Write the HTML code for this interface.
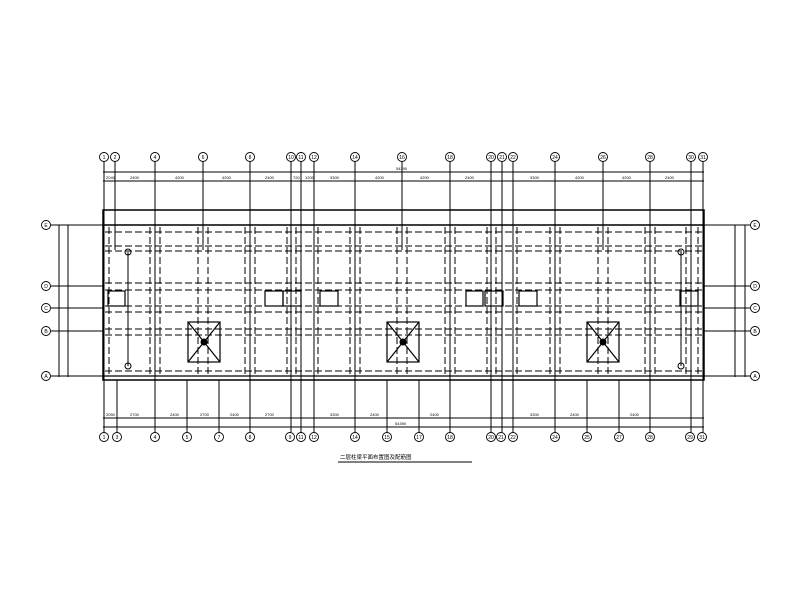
<!DOCTYPE html>
<html><head><meta charset="utf-8"><style>
html,body{margin:0;padding:0;background:#fff;}
svg{display:block;}
text{font-family:"Liberation Sans",sans-serif;}
</style></head><body>
<svg width="801" height="589" viewBox="0 0 801 589" xmlns="http://www.w3.org/2000/svg">
<g stroke="#000" fill="none" stroke-width="1">
<line x1="103" y1="172" x2="704" y2="172"/>
<line x1="103" y1="181" x2="704" y2="181"/>
<line x1="103" y1="418" x2="704" y2="418"/>
<line x1="103" y1="427" x2="704" y2="427"/>
<line x1="59" y1="225" x2="59" y2="377"/>
<line x1="68" y1="225" x2="68" y2="377"/>
<line x1="735" y1="225" x2="735" y2="377"/>
<line x1="745" y1="225" x2="745" y2="377"/>
<g>
<line x1="51" y1="225" x2="103" y2="225"/><line x1="704" y1="225" x2="750" y2="225"/>
<line x1="51" y1="286" x2="103" y2="286"/><line x1="704" y1="286" x2="750" y2="286"/>
<line x1="51" y1="308" x2="103" y2="308"/><line x1="704" y1="308" x2="750" y2="308"/>
<line x1="51" y1="331" x2="103" y2="331"/><line x1="704" y1="331" x2="750" y2="331"/>
<line x1="51" y1="376" x2="103" y2="376"/><line x1="704" y1="376" x2="750" y2="376"/>
</g>
<rect x="103" y="210" width="601" height="170" stroke-width="1.5"/>
<line x1="103" y1="225" x2="704" y2="225" stroke-width="1.5"/>
<line x1="103" y1="376" x2="704" y2="376" stroke-width="1.3"/>
<g>
<line x1="104" y1="162" x2="104" y2="432"/><line x1="115" y1="162" x2="115" y2="250"/>
<line x1="155" y1="162" x2="155" y2="432"/><line x1="203" y1="162" x2="203" y2="250"/>
<line x1="250" y1="162" x2="250" y2="432"/><line x1="291" y1="162" x2="291" y2="432"/>
<line x1="301" y1="162" x2="301" y2="432"/><line x1="314" y1="162" x2="314" y2="432"/>
<line x1="355" y1="162" x2="355" y2="432"/><line x1="402" y1="162" x2="402" y2="250"/>
<line x1="450" y1="162" x2="450" y2="432"/><line x1="491" y1="162" x2="491" y2="432"/>
<line x1="502" y1="162" x2="502" y2="432"/><line x1="513" y1="162" x2="513" y2="432"/>
<line x1="555" y1="162" x2="555" y2="432"/><line x1="603" y1="162" x2="603" y2="250"/>
<line x1="650" y1="162" x2="650" y2="432"/><line x1="691" y1="162" x2="691" y2="432"/>
<line x1="703" y1="162" x2="703" y2="432"/>
<line x1="117" y1="380" x2="117" y2="432"/><line x1="187" y1="380" x2="187" y2="432"/>
<line x1="219" y1="380" x2="219" y2="432"/><line x1="387" y1="380" x2="387" y2="432"/>
<line x1="419" y1="380" x2="419" y2="432"/><line x1="587" y1="380" x2="587" y2="432"/>
<line x1="619" y1="380" x2="619" y2="432"/>
</g>
<g stroke-dasharray="7,3">
<line x1="105" y1="232" x2="702" y2="232"/><line x1="105" y1="246" x2="702" y2="246"/>
<line x1="105" y1="251" x2="702" y2="251"/><line x1="105" y1="283" x2="702" y2="283"/>
<line x1="105" y1="290" x2="702" y2="290"/><line x1="105" y1="306" x2="702" y2="306"/>
<line x1="105" y1="312" x2="702" y2="312"/><line x1="105" y1="329" x2="702" y2="329"/>
<line x1="105" y1="335" x2="702" y2="335"/><line x1="105" y1="371" x2="702" y2="371"/>
</g>
<g stroke-dasharray="7,3">
<line x1="109" y1="227" x2="109" y2="375"/><line x1="150" y1="227" x2="150" y2="375"/>
<line x1="160" y1="227" x2="160" y2="375"/><line x1="198" y1="227" x2="198" y2="375"/>
<line x1="208" y1="227" x2="208" y2="375"/><line x1="245" y1="227" x2="245" y2="375"/>
<line x1="255" y1="227" x2="255" y2="375"/><line x1="287" y1="227" x2="287" y2="375"/>
<line x1="296" y1="227" x2="296" y2="375"/><line x1="318" y1="227" x2="318" y2="375"/>
<line x1="350" y1="227" x2="350" y2="375"/><line x1="360" y1="227" x2="360" y2="375"/>
<line x1="397" y1="227" x2="397" y2="375"/><line x1="407" y1="227" x2="407" y2="375"/>
<line x1="445" y1="227" x2="445" y2="375"/><line x1="455" y1="227" x2="455" y2="375"/>
<line x1="487" y1="227" x2="487" y2="375"/><line x1="496" y1="227" x2="496" y2="375"/>
<line x1="517" y1="227" x2="517" y2="375"/><line x1="550" y1="227" x2="550" y2="375"/>
<line x1="560" y1="227" x2="560" y2="375"/><line x1="598" y1="227" x2="598" y2="375"/>
<line x1="608" y1="227" x2="608" y2="375"/><line x1="645" y1="227" x2="645" y2="375"/>
<line x1="655" y1="227" x2="655" y2="375"/><line x1="686" y1="227" x2="686" y2="375"/>
<line x1="698" y1="227" x2="698" y2="375"/>
</g>
<g stroke-width="1.2">
<rect x="108" y="291" width="17" height="15"/><rect x="265" y="291" width="18" height="15"/>
<rect x="283" y="291" width="18" height="15"/><rect x="320" y="291" width="18" height="15"/>
<rect x="466" y="291" width="17" height="15"/><rect x="485" y="291" width="18" height="15"/>
<rect x="519" y="291" width="18" height="15"/><rect x="680" y="291" width="18" height="15"/>
</g>
<g stroke-width="1.2">
<rect x="188" y="322" width="32" height="40"/><line x1="188" y1="322" x2="220" y2="362"/><line x1="220" y1="322" x2="188" y2="362"/>
<rect x="387" y="322" width="32" height="40"/><line x1="387" y1="322" x2="419" y2="362"/><line x1="419" y1="322" x2="387" y2="362"/>
<rect x="587" y="322" width="32" height="40"/><line x1="587" y1="322" x2="619" y2="362"/><line x1="619" y1="322" x2="587" y2="362"/>
</g>
<circle cx="204" cy="342" r="3" fill="#000"/><circle cx="403" cy="342" r="3" fill="#000"/><circle cx="603" cy="342" r="3" fill="#000"/>
<g>
<line x1="128" y1="252" x2="128" y2="366"/><circle cx="128" cy="252" r="3"/><circle cx="128" cy="366" r="3"/>
<line x1="681" y1="252" x2="681" y2="366"/><circle cx="681" cy="252" r="3"/><circle cx="681" cy="366" r="3"/>
</g>
<g stroke-width="0.9">
<circle cx="104" cy="157" r="4.5"/><circle cx="115" cy="157" r="4.5"/><circle cx="155" cy="157" r="4.5"/>
<circle cx="203" cy="157" r="4.5"/><circle cx="250" cy="157" r="4.5"/><circle cx="291" cy="157" r="4.5"/>
<circle cx="301" cy="157" r="4.5"/><circle cx="314" cy="157" r="4.5"/><circle cx="355" cy="157" r="4.5"/>
<circle cx="402" cy="157" r="4.5"/><circle cx="450" cy="157" r="4.5"/><circle cx="491" cy="157" r="4.5"/>
<circle cx="502" cy="157" r="4.5"/><circle cx="513" cy="157" r="4.5"/><circle cx="555" cy="157" r="4.5"/>
<circle cx="603" cy="157" r="4.5"/><circle cx="650" cy="157" r="4.5"/><circle cx="691" cy="157" r="4.5"/>
<circle cx="703" cy="157" r="4.5"/>
</g>
<g stroke-width="0.9">
<circle cx="104" cy="437" r="4.5"/><circle cx="117" cy="437" r="4.5"/><circle cx="155" cy="437" r="4.5"/>
<circle cx="187" cy="437" r="4.5"/><circle cx="219" cy="437" r="4.5"/><circle cx="250" cy="437" r="4.5"/>
<circle cx="290" cy="437" r="4.5"/><circle cx="301" cy="437" r="4.5"/><circle cx="314" cy="437" r="4.5"/>
<circle cx="355" cy="437" r="4.5"/><circle cx="387" cy="437" r="4.5"/><circle cx="419" cy="437" r="4.5"/>
<circle cx="450" cy="437" r="4.5"/><circle cx="491" cy="437" r="4.5"/><circle cx="501" cy="437" r="4.5"/>
<circle cx="513" cy="437" r="4.5"/><circle cx="555" cy="437" r="4.5"/><circle cx="587" cy="437" r="4.5"/>
<circle cx="619" cy="437" r="4.5"/><circle cx="650" cy="437" r="4.5"/><circle cx="690" cy="437" r="4.5"/>
<circle cx="702" cy="437" r="4.5"/>
</g>
<g stroke-width="0.9">
<circle cx="46" cy="225" r="4.5"/><circle cx="46" cy="286" r="4.5"/><circle cx="46" cy="308" r="4.5"/>
<circle cx="46" cy="331" r="4.5"/><circle cx="46" cy="376" r="4.5"/>
<circle cx="755" cy="225" r="4.5"/><circle cx="755" cy="286" r="4.5"/><circle cx="755" cy="308" r="4.5"/>
<circle cx="755" cy="331" r="4.5"/><circle cx="755" cy="376" r="4.5"/>
</g>
<line x1="338" y1="462" x2="472" y2="462"/>
</g>
<g font-size="5" fill="#000" text-anchor="middle">
<text x="104" y="159">1</text><text x="115" y="159">2</text><text x="155" y="159">4</text><text x="203" y="159">6</text>
<text x="250" y="159">8</text><text x="291" y="159">10</text><text x="301" y="159">11</text><text x="314" y="159">12</text>
<text x="355" y="159">14</text><text x="402" y="159">16</text><text x="450" y="159">18</text><text x="491" y="159">20</text>
<text x="502" y="159">21</text><text x="513" y="159">22</text><text x="555" y="159">24</text><text x="603" y="159">26</text>
<text x="650" y="159">28</text><text x="691" y="159">30</text><text x="703" y="159">31</text>
<text x="104" y="439">1</text><text x="117" y="439">3</text><text x="155" y="439">4</text><text x="187" y="439">5</text>
<text x="219" y="439">7</text><text x="250" y="439">8</text><text x="290" y="439">9</text><text x="301" y="439">11</text>
<text x="314" y="439">12</text><text x="355" y="439">14</text><text x="387" y="439">15</text><text x="419" y="439">17</text>
<text x="450" y="439">18</text><text x="491" y="439">20</text><text x="501" y="439">21</text><text x="513" y="439">22</text>
<text x="555" y="439">24</text><text x="587" y="439">25</text><text x="619" y="439">27</text><text x="650" y="439">28</text>
<text x="690" y="439">29</text><text x="702" y="439">31</text>
<text x="46" y="227">E</text><text x="46" y="288">D</text><text x="46" y="310">C</text><text x="46" y="333">B</text><text x="46" y="378">A</text>
<text x="755" y="227">E</text><text x="755" y="288">D</text><text x="755" y="310">C</text><text x="755" y="333">B</text><text x="755" y="378">A</text>
</g>
<g font-size="4" fill="#000">
<text x="106" y="179">2040</text><text x="130" y="179">2400</text><text x="175" y="179">4200</text>
<text x="222" y="179">4200</text><text x="265" y="179">2400</text><text x="293" y="179">720</text>
<text x="305" y="179">1200</text><text x="330" y="179">3300</text><text x="375" y="179">4200</text>
<text x="420" y="179">4200</text><text x="465" y="179">2400</text><text x="530" y="179">3300</text>
<text x="575" y="179">4200</text><text x="622" y="179">4200</text><text x="665" y="179">2400</text>
<text x="396" y="170">54390</text>
<text x="106" y="416">2050</text><text x="130" y="416">2700</text><text x="170" y="416">2400</text>
<text x="200" y="416">2700</text><text x="230" y="416">2400</text><text x="265" y="416">2700</text>
<text x="330" y="416">3300</text><text x="370" y="416">2400</text><text x="430" y="416">2400</text>
<text x="530" y="416">3300</text><text x="570" y="416">2400</text><text x="630" y="416">2400</text>
<text x="395" y="425">54390</text>
</g>
<text x="340" y="459" font-size="5.5" font-family="'Liberation Sans','Noto Sans CJK SC',sans-serif">二层柱梁平面布置图及配筋图</text>
</svg>
</body></html>
